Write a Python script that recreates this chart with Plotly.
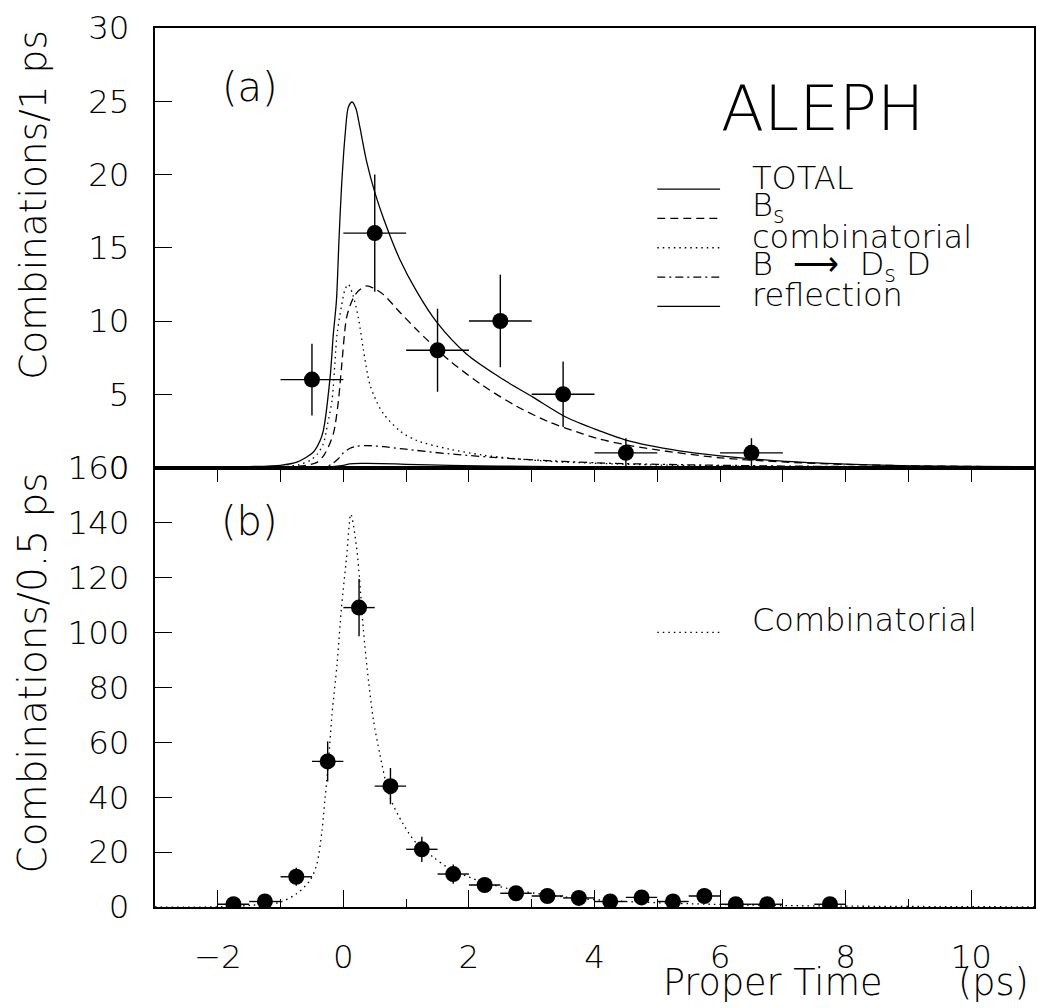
import plotly.graph_objects as go

# ---------------- panel (a): 1 ps bins ----------------
t_a = [-0.5, 0.5, 1.5, 2.5, 3.5, 4.5, 6.5]
n_a = [6, 16, 8, 10, 5, 1, 1]
ex_a = [0.5, 0.5, 0.5, 0.5, 0.5, 0.5, 0.5]
ey_a = [2.45, 4.0, 2.83, 3.16, 2.24, 1.0, 1.0]

total_x = [-3.0, -2.0, -1.5, -1.0, -0.74, -0.48, -0.37, -0.32, -0.21, -0.16, -0.11, -0.07, -0.03,
           0.03, 0.08, 0.14, 0.2, 0.26, 0.37, 0.5, 0.64, 0.9, 1.17, 1.49, 1.96, 2.49, 3.02, 3.55,
           4.07, 4.5, 5.35, 6.0, 6.94, 8.0, 9.07, 10.0, 11.0]
total_y = [0.0, 0.02, 0.06, 0.15, 0.36, 1.04, 1.84, 2.5, 6.2, 9.1, 11.4, 15.5, 19.1,
           22.8, 24.6, 24.95, 24.5, 23.3, 20.9, 18.8, 17.0, 14.2, 12.0, 9.9, 7.75, 6.16, 4.8, 3.43,
           2.52, 1.87, 1.14, 0.8, 0.45, 0.23, 0.11, 0.08, 0.06]

bs_x = [-3.0, -1.0, -0.6, -0.42, -0.3, -0.16, -0.08, -0.03, 0.05, 0.12, 0.19, 0.28, 0.37, 0.5,
        0.64, 0.9, 1.17, 1.69, 2.22, 2.75, 3.28, 3.81, 4.07, 4.5, 5.0, 6.0, 7.0, 8.0, 9.0, 10.0, 11.0]
bs_y = [0.0, 0.02, 0.15, 0.35, 0.9, 2.3, 4.5, 6.8, 10.2, 11.2, 11.8, 12.2, 12.4, 12.2,
        11.8, 10.6, 9.4, 7.3, 5.6, 4.2, 3.1, 2.3, 1.95, 1.55, 1.2, 0.66, 0.38, 0.21, 0.12, 0.07, 0.04]

comb_x = [-3.0, -1.0, -0.7, -0.53, -0.42, -0.32, -0.25, -0.18, -0.1, -0.03, 0.03, 0.08, 0.15,
          0.24, 0.32, 0.42, 0.53, 0.64, 0.9, 1.17, 1.69, 2.22, 2.75, 3.28, 4.07, 5.0, 6.0, 8.0, 11.0]
comb_y = [0.0, 0.05, 0.2, 0.48, 0.9, 1.6, 3.0, 4.6, 9.1, 11.0, 12.2, 12.5, 11.8,
          10.2, 8.0, 5.7, 4.5, 3.66, 2.5, 1.84, 1.25, 0.85, 0.6, 0.42, 0.28, 0.17, 0.1, 0.04, 0.01]

bdd_x = [-3.0, -0.3, -0.18, -0.08, 0.0, 0.1, 0.21, 0.37, 0.64, 0.95, 1.69, 2.75, 4.02, 5.0, 6.0,
         7.0, 8.0, 9.0, 10.0, 11.0]
bdd_y = [0.0, 0.02, 0.25, 0.6, 1.0, 1.3, 1.45, 1.5, 1.42, 1.27, 0.93, 0.59, 0.32, 0.22, 0.15,
         0.1, 0.07, 0.05, 0.03, 0.02]

refl_x = [-3.0, -0.3, 0.0, 0.1, 0.31, 0.6, 1.0, 1.69, 2.5, 4.0, 6.0, 11.0]
refl_y = [0.0, 0.03, 0.15, 0.25, 0.28, 0.27, 0.22, 0.14, 0.09, 0.04, 0.01, 0.0]

legend_a = ["TOTAL", "B<sub>s</sub>", "combinatorial", "B  \u27f6  D<sub>s</sub> D", "reflection"]

# ---------------- panel (b): 0.5 ps bins ----------------
t_b = [-1.75, -1.25, -0.75, -0.25, 0.25, 0.75, 1.25, 1.75, 2.25, 2.75, 3.25, 3.75, 4.25, 4.75,
       5.25, 5.75, 6.25, 6.75, 7.75]
n_b = [1, 2, 11, 53, 109, 44, 21, 12, 8, 5, 4, 3.3, 2, 3.5, 2, 4, 1, 1, 1]
ex_b = [0.25] * 19
ey_b = [1.0, 1.4, 3.3, 7.3, 10.4, 6.6, 4.6, 3.5, 2.8, 2.2, 2.0, 1.8, 1.4, 1.9, 1.4, 2.0, 1.0, 1.0, 1.0]

comb_b_x = [-3.0, -2.0, -1.48, -1.0, -0.74, -0.53, -0.42, -0.34, -0.29, -0.24, -0.18, -0.1, -0.03,
            0.05, 0.12, 0.21, 0.26, 0.32, 0.40, 0.48, 0.58, 0.74, 0.95, 1.17, 1.43, 1.69, 2.22,
            2.75, 3.28, 3.81, 4.5, 5.5, 6.5, 7.5, 8.5, 9.5, 11.0]
comb_b_y = [0.0, 0.05, 0.6, 1.8, 4.9, 9.7, 15.8, 27.9, 40.0, 52.1, 70.3, 88.5, 109.0,
            127.0, 143.0, 131.0, 118.8, 100.6, 82.4, 67.9, 55.8, 40.0, 30.3, 23.0, 18.2, 14.0, 9.1,
            6.1, 4.3, 3.0, 2.0, 1.2, 0.7, 0.4, 0.25, 0.15, 0.05]

x_ticks = [-2, 0, 2, 4, 6, 8, 10]

FONT = "DejaVu Sans"
FW = 200
TICKSIZE = 32.5
LW = 1.3
DASH = "8px,5px"
DOT = "1.5px,4px"
DASHDOT = "8px,4px,2px,4px"

fig = go.Figure()

def curve(x, y, dash, xa, ya):
    fig.add_trace(go.Scatter(x=x, y=y, mode="lines", xaxis=xa, yaxis=ya,
                             line=dict(color="black", width=LW, dash=dash, shape="spline",
                                       smoothing=0.8),
                             hoverinfo="skip"))

curve(refl_x, refl_y, "solid", "x2", "y2")
curve(bdd_x, bdd_y, DASHDOT, "x2", "y2")
curve(comb_x, comb_y, DOT, "x2", "y2")
curve(bs_x, bs_y, DASH, "x2", "y2")
curve(total_x, total_y, "solid", "x2", "y2")

fig.add_trace(go.Scatter(x=t_a, y=n_a, mode="markers", xaxis="x2", yaxis="y2",
                         marker=dict(color="black", size=16),
                         error_x=dict(type="data", array=ex_a, color="black", thickness=1.4, width=0),
                         error_y=dict(type="data", array=ey_a, color="black", thickness=1.4, width=0)))

curve(comb_b_x, comb_b_y, DOT, "x", "y")
fig.add_trace(go.Scatter(x=t_b, y=n_b, mode="markers", xaxis="x", yaxis="y",
                         marker=dict(color="black", size=16),
                         error_x=dict(type="data", array=ex_b, color="black", thickness=1.4, width=0),
                         error_y=dict(type="data", array=ey_b, color="black", thickness=1.4, width=0)))

tickfont = dict(family=FONT, size=TICKSIZE, color="black", weight=FW)
common = dict(showgrid=False, zeroline=False, showline=True, linecolor="black", linewidth=2,
              mirror=True)

fig.update_layout(
    width=1037, height=1008,
    margin=dict(l=155, r=3, t=28, b=101),
    paper_bgcolor="white", plot_bgcolor="white",
    showlegend=False,
    font=dict(family=FONT, color="black", weight=FW),
    xaxis=dict(domain=[0, 1], anchor="y", range=[-3, 11], tickvals=x_ticks,
               ticks="inside", ticklen=17, tickwidth=1.3, tickcolor="black",
               minor=dict(dtick=1, tick0=0, ticks="inside", ticklen=8, tickwidth=1.3,
                          tickcolor="black"),
               tickfont=tickfont, ticklabelstandoff=20, automargin=False, **common),
    xaxis3=dict(overlaying="x", anchor="y", side="top", range=[-3, 11], dtick=1, tick0=0,
                ticks="inside", ticklen=14, tickwidth=1.3, tickcolor="black",
                showticklabels=False, showgrid=False, zeroline=False, showline=False),
    yaxis=dict(domain=[0, 0.5], anchor="x", range=[0, 160], dtick=20, tick0=0,
               ticks="inside", ticklen=17, tickwidth=1.3, tickcolor="black",
               tickfont=tickfont, ticklabelstandoff=17, automargin=False, **common),
    xaxis2=dict(domain=[0, 1], anchor="y2", range=[-3, 11], showticklabels=False, ticks="",
                **common),
    yaxis2=dict(domain=[0.5, 1], anchor="x2", range=[0, 30], dtick=5, tick0=0,
                ticks="inside", ticklen=17, tickwidth=1.3, tickcolor="black",
                tickfont=tickfont, ticklabelstandoff=17, automargin=False, **common),
)
# dummy trace to activate xaxis3
fig.add_trace(go.Scatter(x=[None], y=[None], xaxis="x3", yaxis="y", showlegend=False))

# legend (a)
legend_dash = ["solid", DASH, DOT, DASHDOT, "solid"]
legend_y = [19, 17, 15, 13, 11]
for lab, d, yy in zip(legend_a, legend_dash, legend_y):
    fig.add_shape(type="line", xref="x2", yref="y2", x0=5.0, x1=6.0, y0=yy, y1=yy,
                  line=dict(color="black", width=LW, dash=d))
    fig.add_annotation(xref="x2", yref="y2", x=6.48, y=yy + 0.75, text=lab, showarrow=False,
                       xanchor="left", yanchor="middle",
                       font=dict(family=FONT, size=32, color="black", weight=FW))

# legend (b)
fig.add_shape(type="line", xref="x", yref="y", x0=5.0, x1=6.0, y0=100, y1=100,
              line=dict(color="black", width=LW, dash=DOT))
fig.add_annotation(xref="x", yref="y", x=6.48, y=104.5, text="Combinatorial", showarrow=False,
                   xanchor="left", yanchor="middle",
                   font=dict(family=FONT, size=32, color="black", weight=FW))

# panel labels
fig.add_annotation(xref="x2", yref="y2", x=-1.49, y=26.0, text="(a)", showarrow=False,
                   font=dict(family=FONT, size=40, color="black", weight=FW))
fig.add_annotation(xref="x", yref="y", x=-1.49, y=140.5, text="(b)", showarrow=False,
                   font=dict(family=FONT, size=40, color="black", weight=FW))
fig.add_annotation(xref="x2", yref="y2", x=5.98, y=24.5, text="ALEPH", showarrow=False,
                   xanchor="left", yanchor="middle",
                   font=dict(family=FONT, size=63, color="black", weight=FW))

# axis titles
TS = 36.5
fig.add_annotation(xref="paper", yref="paper", x=-0.139, y=1.0, text="Combinations/1 ps",
                   textangle=-90, showarrow=False, xanchor="center", yanchor="top",
                   font=dict(family=FONT, size=37.5, color="black", weight=FW))
fig.add_annotation(xref="paper", yref="paper", x=-0.139, y=0.497, text="Combinations/0.5 ps",
                   textangle=-90, showarrow=False, xanchor="center", yanchor="top",
                   font=dict(family=FONT, size=39, color="black", weight=FW))
fig.add_annotation(xref="paper", yref="paper", x=(772 - 155) / 879, y=-0.0864,
                   text="Proper Time", showarrow=False, xanchor="center", yanchor="middle",
                   font=dict(family=FONT, size=TS, color="black", weight=FW))
fig.add_annotation(xref="paper", yref="paper", x=(1031 - 155) / 879, y=-0.0864,
                   text="(ps)", showarrow=False, xanchor="right", yanchor="middle",
                   font=dict(family=FONT, size=TS, color="black", weight=FW))

fig.write_html("out.html",
               config={"displayModeBar": False},
               post_script="document.body.style.margin='0';document.body.style.padding='0';"
                           "document.body.style.overflow='hidden';")
